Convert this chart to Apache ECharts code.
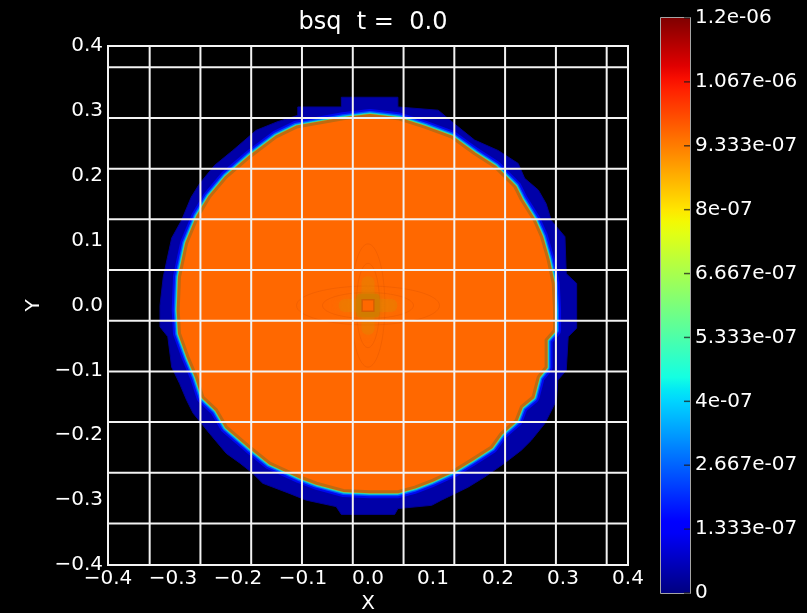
<!DOCTYPE html>
<html>
<head>
<meta charset="utf-8">
<title>bsq t = 0.0</title>
<script src="https://cdn.jsdelivr.net/npm/echarts@6/dist/echarts.min.js"></script>
<style>
  html, body { margin: 0; padding: 0; background: #000; }
  #chart { width: 807px; height: 613px; }
</style>
</head>
<body>
<div id="chart"></div>
<script>
// Axis limits and tick labels of the field plot
const xRange = [-0.4, 0.4];
const yRange = [-0.4, 0.4];
const xTickLabels = ['−0.4', '−0.3', '−0.2', '−0.1', '0.0', '0.1', '0.2', '0.3', '0.4'];
const yTickLabels = ['−0.4', '−0.3', '−0.2', '−0.1', '0.0', '0.1', '0.2', '0.3', '0.4'];

// Mesh block boundaries (same positions in x and y)
const meshLines = [-0.3359, -0.2578, -0.1797, -0.1016, -0.0234, 0.0547, 0.1328, 0.2109, 0.2891, 0.3672];

// Colour bar levels of bsq
const cbTickLabels = ['0', '1.333e-07', '2.667e-07', '4e-07', '5.333e-07', '6.667e-07',
                      '8e-07', '9.333e-07', '1.067e-06', '1.2e-06'];
const bsqPlateau = 9.6e-07;   // value inside the magnetised disc
const bsqMax = 1.2e-06;

// Outer edge of the lowest contour level (blue rim), [x, y]
const outerEdge = [
  [0.046, 0.321], [-0.041, 0.321], [-0.041, 0.306], [-0.108, 0.306], [-0.108, 0.293],
  [-0.140, 0.283], [-0.172, 0.270], [-0.208, 0.239], [-0.236, 0.216], [-0.259, 0.188],
  [-0.272, 0.167], [-0.287, 0.131], [-0.302, 0.104], [-0.315, 0.044], [-0.320, 0.000],
  [-0.320, -0.033], [-0.308, -0.048], [-0.302, -0.095], [-0.290, -0.120], [-0.279, -0.146],
  [-0.269, -0.166], [-0.244, -0.197], [-0.218, -0.228], [-0.197, -0.243], [-0.177, -0.259],
  [-0.162, -0.274], [-0.120, -0.290], [-0.095, -0.300], [-0.049, -0.310], [-0.041, -0.322],
  [0.041, -0.322], [0.046, -0.313], [0.098, -0.308], [0.113, -0.300], [0.154, -0.280],
  [0.180, -0.264], [0.210, -0.243], [0.236, -0.223], [0.251, -0.208], [0.272, -0.182],
  [0.290, -0.146], [0.292, -0.115], [0.305, -0.100], [0.308, -0.048], [0.321, -0.035],
  [0.321, 0.034], [0.305, 0.049], [0.303, 0.106], [0.282, 0.131], [0.274, 0.157],
  [0.262, 0.178], [0.241, 0.196], [0.231, 0.219], [0.200, 0.239], [0.164, 0.255],
  [0.133, 0.280], [0.108, 0.301], [0.046, 0.306]
];

// Edge of the plateau level (orange core), [x, y]
const innerEdge = [
  [0.046, 0.288], [0.003, 0.293], [-0.038, 0.288], [-0.110, 0.275], [-0.141, 0.260],
  [-0.182, 0.229], [-0.218, 0.198], [-0.244, 0.167], [-0.262, 0.137], [-0.279, 0.096],
  [-0.290, 0.044], [-0.292, -0.007], [-0.290, -0.043], [-0.277, -0.079], [-0.264, -0.110],
  [-0.254, -0.141], [-0.233, -0.161], [-0.218, -0.187], [-0.182, -0.218], [-0.151, -0.243],
  [-0.105, -0.264], [-0.079, -0.274], [-0.038, -0.285], [0.003, -0.287], [0.046, -0.287],
  [0.072, -0.280], [0.098, -0.270], [0.133, -0.254], [0.159, -0.238], [0.190, -0.218],
  [0.205, -0.197], [0.228, -0.177], [0.236, -0.156], [0.254, -0.141], [0.262, -0.110],
  [0.274, -0.095], [0.274, -0.053], [0.287, -0.038], [0.287, -0.007], [0.285, 0.034],
  [0.277, 0.071], [0.267, 0.106], [0.256, 0.131], [0.236, 0.163], [0.226, 0.183],
  [0.195, 0.214], [0.164, 0.234], [0.128, 0.260], [0.087, 0.275]
];

// Faint contour lobes around the centre, [cx, cy, rx, ry]
const centreLobes = [[0, 0, 0.11, 0.03], [0, 0, 0.026, 0.095], [0, 0, 0.07, 0.02], [0, 0, 0.018, 0.065]];
// Structure at the origin: cross arms, ring and core, [x0, y0, x1, y1]
const centreArms = [[-0.045, -0.01, 0.045, 0.01], [-0.01, -0.045, 0.01, 0.045]];
const centreRing = [-0.018, -0.018, 0.018, 0.018];
const centreCore = [-0.009, -0.009, 0.009, 0.009];

// matplotlib "jet" colour map
const jetStops = [
  [0.00, '#000080'], [0.11, '#0000ff'], [0.125, '#0000ff'], [0.34, '#00dbff'],
  [0.35, '#00e5f7'], [0.375, '#14ffe2'], [0.64, '#eeff08'], [0.65, '#f7f500'],
  [0.66, '#ffec00'], [0.89, '#ff1300'], [0.91, '#e80000'], [1.00, '#800000']
];
function jet(t) {
  for (let i = 1; i < jetStops.length; i++) {
    if (t <= jetStops[i][0]) {
      const [t0, c0] = jetStops[i - 1], [t1, c1] = jetStops[i];
      const f = (t - t0) / (t1 - t0 || 1);
      const a = echarts.color.parse(c0), b = echarts.color.parse(c1);
      return 'rgb(' + [0, 1, 2].map(k => Math.round(a[k] + (b[k] - a[k]) * f)).join(',') + ')';
    }
  }
  return jetStops[jetStops.length - 1][1];
}

const FONT = 'DejaVu Sans';
const plateauColor = jet(bsqPlateau / bsqMax);

function rectFromBox(api, box) {
  const p0 = api.coord([box[0], box[3]]);
  const p1 = api.coord([box[2], box[1]]);
  return { x: p0[0], y: p0[1], width: p1[0] - p0[0], height: p1[1] - p0[1] };
}

const chart = echarts.init(document.getElementById('chart'), null, { renderer: 'canvas' });

chart.setOption({
  backgroundColor: '#000',
  animation: false,
  title: {
    text: 'bsq  t =  0.0',
    left: 368,
    top: 6,
    textAlign: 'center',
    textStyle: { color: '#fff', fontFamily: FONT, fontSize: 24, fontWeight: 'normal' }
  },
  grid: [
    { left: 108, top: 46, width: 520, height: 519, show: true, containLabel: false,
      outerBoundsMode: 'none',
      borderColor: '#f4f4f4', borderWidth: 2, backgroundColor: 'transparent' },
    { left: 661, top: 18, width: 29, height: 575, show: true, containLabel: false,
      outerBoundsMode: 'none',
      borderColor: '#dcdcdc', borderWidth: 1.5, backgroundColor: 'transparent' }
  ],
  xAxis: [
    {
      gridIndex: 0, type: 'value', min: xRange[0], max: xRange[1], interval: 0.1,
      name: 'X', nameLocation: 'middle', nameGap: 27,
      nameTextStyle: { color: '#fff', fontFamily: FONT, fontSize: 20 },
      axisLine: { show: false }, axisTick: { show: false }, splitLine: { show: false },
      axisLabel: {
        color: '#fff', fontFamily: FONT, fontSize: 20, margin: 4,
        formatter: v => xTickLabels[Math.round((v - xRange[0]) / 0.1)]
      }
    },
    { gridIndex: 1, type: 'value', min: 0, max: 1, show: false }
  ],
  yAxis: [
    {
      gridIndex: 0, type: 'value', min: yRange[0], max: yRange[1], interval: 0.1,
      name: 'Y', nameLocation: 'middle', nameGap: 64,
      nameTextStyle: { color: '#fff', fontFamily: FONT, fontSize: 20 },
      axisLine: { show: false }, axisTick: { show: false }, splitLine: { show: false },
      axisLabel: {
        color: '#fff', fontFamily: FONT, fontSize: 20, margin: 5,
        formatter: v => yTickLabels[Math.round((v - yRange[0]) / 0.1)]
      }
    },
    {
      gridIndex: 1, type: 'value', position: 'right', min: 0, max: cbTickLabels.length - 1, interval: 1,
      axisLine: { show: false }, splitLine: { show: false }, axisTick: { show: false },
      axisLabel: {
        color: '#fff', fontFamily: FONT, fontSize: 20, margin: 5,
        formatter: v => cbTickLabels[Math.round(v)]
      }
    }
  ],
  series: [
    {
      // contour bands of the disc
      type: 'custom', xAxisIndex: 0, yAxisIndex: 0, z: 2, silent: true,
      data: [[0, 0]],
      renderItem: (params, api) => {
        const outer = outerEdge.map(p => api.coord(p));
        const inner = innerEdge.map(p => api.coord(p));
        const ring = (w, c) => ({ type: 'polygon', shape: { points: inner },
          style: { fill: null, stroke: c, lineWidth: w, lineJoin: 'round' } });
        return {
          type: 'group',
          children: [
            { type: 'polygon', shape: { points: outer },
              style: { fill: '#0000a8', stroke: '#000090', lineWidth: 1 } },
            ring(13, '#0008f0'),
            ring(9, '#0050ff'),
            ring(6.5, '#00b4f0'),
            ring(5, '#30d8a8'),
            ring(3.5, '#a8c030'),
            { type: 'polygon', shape: { points: inner },
              style: { fill: plateauColor, stroke: '#c06a10', lineWidth: 3, lineJoin: 'round' } }
          ]
        };
      }
    },
    {
      // fine structure at the origin
      type: 'custom', xAxisIndex: 0, yAxisIndex: 0, z: 3, silent: true,
      data: [[0, 0]],
      renderItem: (params, api) => {
        const children = [];
        centreLobes.forEach(l => {
          const c = api.coord([l[0], l[1]]);
          const s = api.size([l[2], l[3]]);
          children.push({ type: 'ellipse', shape: { cx: c[0], cy: c[1], rx: s[0], ry: s[1] },
            style: { fill: null, stroke: 'rgba(215,80,0,0.3)', lineWidth: 1 } });
        });
        centreArms.forEach(b => {
          children.push({ type: 'rect', shape: Object.assign(rectFromBox(api, b), { r: 6 }),
            style: { fill: 'rgba(225,135,0,0.4)', shadowBlur: 8, shadowColor: 'rgba(225,135,0,0.7)' } });
        });
        children.push({ type: 'rect', shape: Object.assign(rectFromBox(api, centreRing), { r: 4 }),
          style: { fill: 'rgba(205,125,0,0.75)', shadowBlur: 6, shadowColor: 'rgba(200,120,0,0.8)' } });
        children.push({ type: 'rect', shape: rectFromBox(api, centreCore),
          style: { fill: plateauColor, stroke: 'rgba(210,90,0,0.8)', lineWidth: 1.5 } });
        return { type: 'group', children };
      }
    },
    {
      // mesh block boundaries
      type: 'custom', xAxisIndex: 0, yAxisIndex: 0, z: 4, silent: true,
      data: meshLines.map(v => [v, v]),
      renderItem: (params, api) => {
        const v = api.value(0);
        const a = api.coord([v, yRange[0]]), b = api.coord([v, yRange[1]]);
        const c = api.coord([xRange[0], v]), d = api.coord([xRange[1], v]);
        const st = { stroke: '#f2f2f2', lineWidth: 2 };
        return { type: 'group', children: [
          { type: 'line', shape: { x1: a[0], y1: a[1], x2: b[0], y2: b[1] }, style: st },
          { type: 'line', shape: { x1: c[0], y1: c[1], x2: d[0], y2: d[1] }, style: st }
        ] };
      }
    },
    {
      // colour bar with its level ticks
      type: 'custom', xAxisIndex: 1, yAxisIndex: 1, z: 1, silent: true,
      data: [[0, 0]],
      renderItem: (params, api) => {
        const top = api.coord([0, cbTickLabels.length - 1]);
        const bot = api.coord([1, 0]);
        const stops = [];
        for (let i = 0; i <= 48; i++) stops.push({ offset: i / 48, color: jet(1 - i / 48) });
        const children = [{
          type: 'rect',
          shape: { x: top[0], y: top[1], width: bot[0] - top[0], height: bot[1] - top[1] },
          style: { fill: new echarts.graphic.LinearGradient(0, 0, 0, 1, stops) }
        }];
        cbTickLabels.forEach((lbl, i) => {
          const p = api.coord([1, i]);
          children.push({ type: 'line', shape: { x1: p[0] - 6, y1: p[1], x2: p[0], y2: p[1] },
            style: { stroke: 'rgba(30,30,30,0.75)', lineWidth: 1.5 } });
        });
        return { type: 'group', children };
      }
    }
  ]
});
</script>
</body>
</html>
